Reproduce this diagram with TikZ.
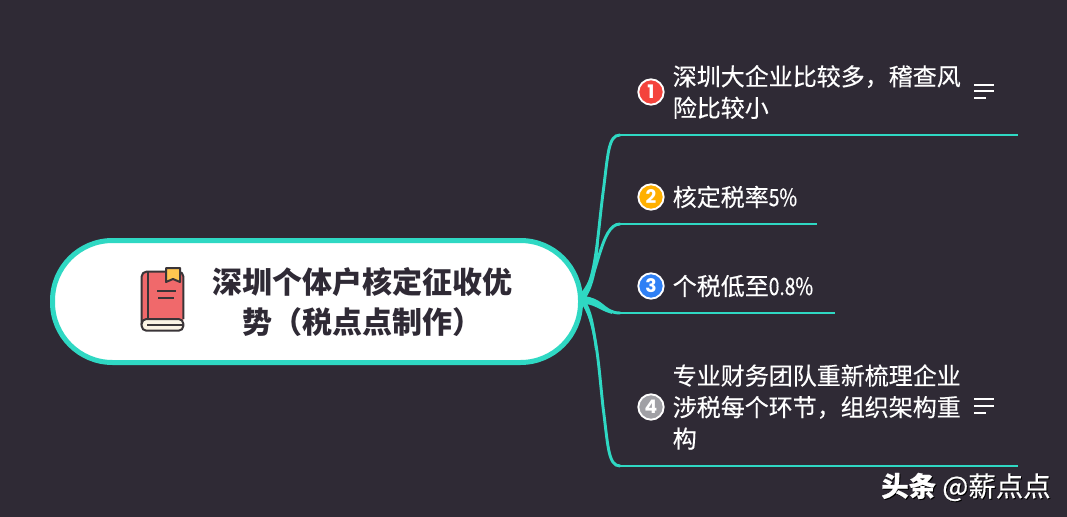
\documentclass[tikz,border=0pt]{standalone}
\usepackage{fontspec}
\setmainfont{Noto Sans CJK SC}
\newfontfamily\narrowlatin[FakeStretch=0.8,FakeBold=0.35]{Noto Sans CJK SC}
\newfontfamily\leaffont[FakeBold=0.35]{Noto Sans CJK SC}
\newfontfamily\numfont{Poppins}
\newfontfamily\wmfont[FakeBold=0.5]{Noto Sans CJK SC}
\definecolor{bgc}{HTML}{2F2A35}
\definecolor{teal}{HTML}{2FD8C3}
\definecolor{ink}{HTML}{2F2A35}
\definecolor{bookred}{HTML}{F0696B}
\definecolor{bookline}{HTML}{3A3538}
\definecolor{ribbon}{HTML}{FFC650}
\definecolor{pages}{HTML}{FBF3E4}
\definecolor{numa}{HTML}{F4433C}
\definecolor{numb}{HTML}{FFB000}
\definecolor{numc}{HTML}{2F80F5}
\definecolor{numd}{HTML}{A0A0A5}
\tikzset{
  x=0.75pt,y=-0.75pt,
  rootbox/.style={draw=teal,fill=white,line width=3.75pt,rounded corners=45pt,minimum width=396pt,minimum height=91.5pt,inner sep=0pt},
  curve/.style={draw=teal,line width=2.2pt,line cap=round},
  taper/.style={fill=teal,draw=none},
  rule/.style={draw=teal,line width=1.6pt},
  numdot/.style={circle,draw=white,line width=1.4pt,minimum size=19pt,inner sep=0pt,text=white,font=\numfont\bfseries\fontsize{14pt}{14pt}\selectfont},
  leaf/.style={anchor=west,text=white,align=left,inner sep=0pt,font=\leaffont\fontsize{18pt}{23.6pt}\selectfont},
  menuline/.style={draw=white,line width=1.1pt},
  bk/.style={draw=bookline,line width=1.5pt,line join=round},
}
\begin{document}
\begin{tikzpicture}
\useasboundingbox (0,0) rectangle (1067,517);
\fill[bgc] (0,0) rectangle (1067,517);
% branch ends
\coordinate (c1) at (620,135); \coordinate (e1) at (1018,135);
\coordinate (c2) at (620,224); \coordinate (e2) at (817,224);
\coordinate (c3) at (620,313); \coordinate (e3) at (835,313);
\coordinate (c4) at (620,466); \coordinate (e4) at (1018,466);
\coordinate (o) at (581,299);
\draw[curve] (o) .. controls (596,280) and (597,240) .. (603,193) .. controls (608,155) and (608,135) .. (c1);
\draw[curve] (o) .. controls (598,280) and (600,224) .. (c2);
\draw[curve] (o) .. controls (602,296) and (602,313) .. (c3);
\draw[curve] (o) .. controls (596,320) and (598,360) .. (603,407) .. controls (608,445) and (608,466) .. (c4);
% thickening near the root
\fill[taper] (578,296) .. controls (592,282) and (595,262) .. (597,240) -- (599,240) .. controls (597,270) and (594,288) .. (583,302) -- cycle;
\fill[taper] (580,296) .. controls (595,295) and (600,305) .. (612,312) -- (612,314) .. controls (598,310) and (594,303) .. (580,304) -- cycle;
\fill[taper] (579,300) .. controls (588,312) and (592,325) .. (595,350) -- (597,350) .. controls (595,325) and (592,310) .. (584,298) -- cycle;
\draw[rule] (c1) -- (e1);
\draw[rule] (c2) -- (e2);
\draw[rule] (c3) -- (e3);
\draw[rule] (c4) -- (e4);
% root
\node[rootbox] (root) at (316.5,301.5) {};
\node[font=\fontsize{22.5pt}{30pt}\selectfont\bfseries,text=ink,align=center,inner sep=0pt] (roottext) at (362,302) {深圳个体户核定征收优\\势（税点点制作）};
% book icon
\fill[bookred,rounded corners=3.5pt] (141.7,271.7) rectangle (183.3,325);
\draw[bk,rounded corners=3.5pt] (141.7,325) -- (141.7,271.7) -- (183.3,271.7) -- (183.3,319);
\draw[bk,fill=pages,rounded corners=3.5pt] (183.3,319) -- (141.7,319) -- (141.7,330.7) -- (183.3,330.7) -- cycle;
\draw[bk] (148,271.7) -- (148,319);
\draw[bk,line width=1.1pt] (147,325) -- (183.3,325);
\draw[bk,fill=ribbon] (166,268) -- (180,268) -- (180,282) -- (173,279) -- (166,282) -- cycle;
\draw[bk] (157,290.7) -- (176,290.7);
\draw[bk] (158,298) -- (174,298);
% leaves
\node[numdot,fill=numa] (n1) at (651,92) {1};
\node[leaf] (t1) at (672.5,92) {深圳大企业比较多，稽查风\\险比较小};
\node[numdot,fill=numb] (n2) at (651,197) {2};
\node[leaf] (t2) at (672.5,197) {核定税率{\narrowlatin 5\%}};
\node[numdot,fill=numc] (n3) at (651,286) {3};
\node[leaf] (t3) at (672.5,286) {个税低至{\narrowlatin 0.8\%}};
\node[numdot,fill=numd] (n4) at (651,407) {4};
\node[leaf] (t4) at (672.5,407) {专业财务团队重新梳理企业\\涉税每个环节，组织架构重\\构};
% menu icons
\draw[menuline] (974,85) -- (994,85);
\draw[menuline] (974,91) -- (994,91);
\draw[menuline] (974,98) -- (986,98);
\draw[menuline] (974,399) -- (994,399);
\draw[menuline] (974,406) -- (994,406);
\draw[menuline] (974,413) -- (986,413);
% watermark
\node[anchor=east,inner sep=0pt,text=black,font=\wmfont\fontsize{20.6pt}{22pt}\selectfont] (wmshadow) at (1052,488) {{\bfseries 头条} @薪点点};
\node[anchor=east,inner sep=0pt,text=white,font=\wmfont\fontsize{20.6pt}{22pt}\selectfont] (wm) at (1051,487) {{\bfseries 头条} @薪点点};
\end{tikzpicture}
\end{document}
